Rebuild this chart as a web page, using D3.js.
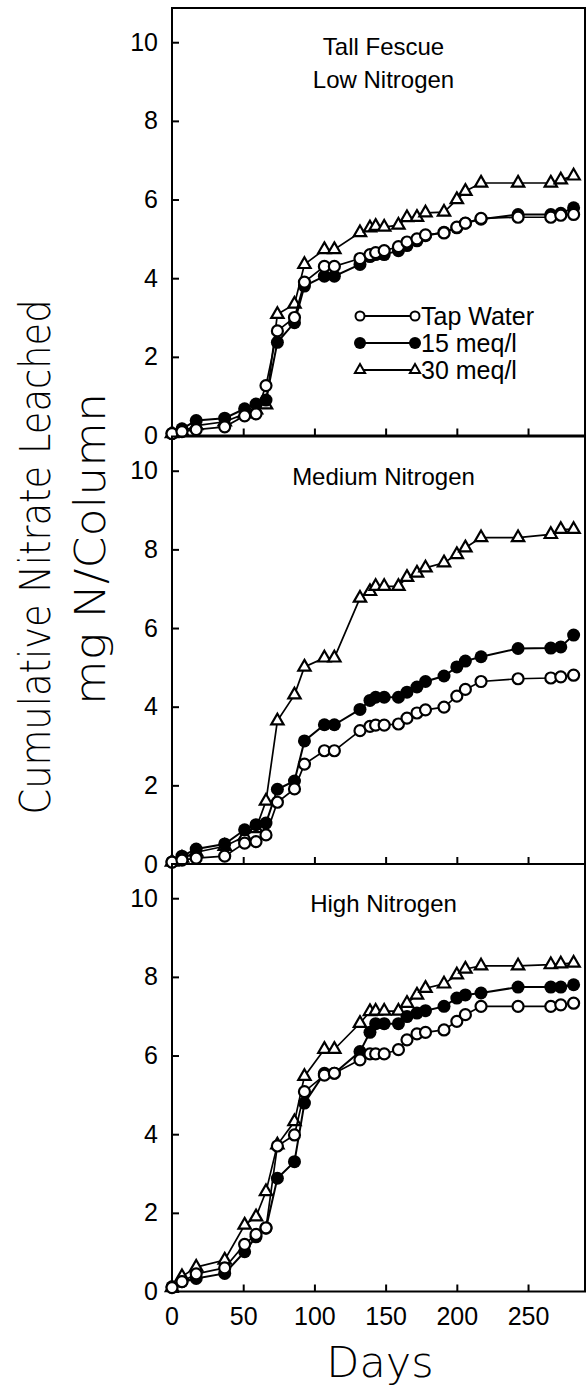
<!DOCTYPE html>
<html>
<head>
<meta charset="utf-8">
<script src="https://cdn.jsdelivr.net/npm/d3@7"></script>
<style>
  html, body { margin: 0; padding: 0; background: #fff; }
  svg { display: block; }
</style>
</head>
<body>
<svg id="chart" width="587" height="1395"></svg>
<script>
// ---- data ----
const days = [0, 7, 17, 37, 51, 59, 66, 74, 86, 93, 107, 114, 132, 139, 143, 149, 159, 165, 172, 178, 191, 200, 206, 217, 243, 266, 273, 282];

const seriesNames = ["Tap Water", "15 meq/l", "30 meq/l"];
const panelTitles = [["Tall Fescue", "Low Nitrogen"], ["Medium Nitrogen"], ["High Nitrogen"]];

const lowTap     = [0.05, 0.1, 0.15, 0.22, 0.5, 0.55, 1.27, 2.66, 3.0, 3.9, 4.3, 4.3, 4.5, 4.6, 4.65, 4.7, 4.8, 4.92, 5.0, 5.1, 5.15, 5.3, 5.4, 5.52, 5.55, 5.55, 5.6, 5.62];
const low15      = [0.05, 0.17, 0.38, 0.44, 0.68, 0.8, 0.9, 2.37, 2.87, 3.8, 4.05, 4.05, 4.35, 4.55, 4.6, 4.6, 4.7, 4.83, 4.95, 5.08, 5.17, 5.28, 5.4, 5.5, 5.62, 5.62, 5.65, 5.79];
const low30      = [0.05, 0.1, 0.25, 0.35, 0.55, 0.65, 0.78, 3.08, 3.34, 4.35, 4.73, 4.73, 5.16, 5.28, 5.32, 5.3, 5.35, 5.54, 5.55, 5.66, 5.68, 6.0, 6.21, 6.42, 6.42, 6.42, 6.5, 6.6];

const medTap     = [0.05, 0.1, 0.15, 0.2, 0.53, 0.57, 0.74, 1.57, 1.91, 2.54, 2.88, 2.88, 3.39, 3.5, 3.53, 3.53, 3.56, 3.71, 3.84, 3.92, 3.99, 4.27, 4.44, 4.64, 4.71, 4.73, 4.76, 4.8];
const med15      = [0.05, 0.2, 0.38, 0.51, 0.87, 1.0, 1.04, 1.9, 2.11, 3.13, 3.54, 3.54, 3.93, 4.16, 4.24, 4.24, 4.24, 4.37, 4.5, 4.64, 4.78, 5.01, 5.16, 5.27, 5.48, 5.49, 5.52, 5.82];
const med30      = [0.05, 0.15, 0.3, 0.45, 0.7, 0.9, 1.6, 3.64, 4.3, 5.01, 5.24, 5.24, 6.76, 6.93, 7.06, 7.06, 7.06, 7.29, 7.4, 7.53, 7.66, 7.87, 8.04, 8.3, 8.3, 8.38, 8.51, 8.51];

const highTap    = [0.1, 0.25, 0.45, 0.6, 1.2, 1.45, 1.62, 3.7, 3.98, 5.08, 5.5, 5.55, 5.89, 6.04, 6.04, 6.04, 6.15, 6.4, 6.55, 6.59, 6.65, 6.87, 7.04, 7.25, 7.25, 7.25, 7.29, 7.33];
const high15     = [0.12, 0.25, 0.33, 0.46, 1.01, 1.39, 1.61, 2.88, 3.3, 4.79, 5.55, 5.55, 6.1, 6.59, 6.81, 6.81, 6.81, 6.99, 7.08, 7.14, 7.25, 7.46, 7.54, 7.59, 7.74, 7.74, 7.74, 7.8];
const high30     = [0.1, 0.38, 0.62, 0.8, 1.69, 1.9, 2.54, 3.73, 4.32, 5.47, 6.16, 6.16, 6.82, 7.12, 7.13, 7.13, 7.13, 7.33, 7.54, 7.71, 7.82, 8.05, 8.2, 8.28, 8.28, 8.31, 8.33, 8.35];

const xTicks = [0, 50, 100, 150, 200, 250];
const yTicks = [0, 2, 4, 6, 8, 10];

const yTitle1 = "Cumulative Nitrate Leached";
const yTitle2 = "mg N/Column";
const xTitle = "Days";

// ---- layout ----
const svg = d3.select("#chart");
const left = 172, right = 585;
const panelTops = [8, 436.5, 864];
const panelH = 427.5;
const tickFont = "'Liberation Sans', Arial, sans-serif";

const x = d3.scaleLinear().domain([0, 290]).range([left, right]);

const panels = [
  { tap: lowTap, s15: low15, s30: low30 },
  { tap: medTap, s15: med15, s30: med30 },
  { tap: highTap, s15: high15, s30: high30 }
];

const triSym = d3.symbol().type(d3.symbolTriangle).size(66);

panels.forEach((p, i) => {
  const top = panelTops[i];
  const y = d3.scaleLinear().domain([0, 10.87]).range([top + panelH, top]);
  const g = svg.append("g");

  // frame
  g.append("rect")
    .attr("x", left).attr("y", top)
    .attr("width", right - left).attr("height", panelH)
    .attr("fill", "none").attr("stroke", "#000").attr("stroke-width", 2);

  // y axis
  const ya = g.append("g").attr("transform", `translate(${left},0)`)
    .call(d3.axisLeft(y).tickValues(yTicks).tickSize(-7).tickPadding(14).tickFormat(d3.format("d")));
  ya.select(".domain").remove();
  ya.selectAll(".tick line").attr("stroke-width", 2);
  ya.selectAll("text").attr("font-size", 25).attr("font-family", tickFont).attr("fill", "#000");

  // x axis
  const xa = g.append("g").attr("transform", `translate(0,${top + panelH})`)
    .call(d3.axisBottom(x).tickValues(xTicks.filter(d => d > 0)).tickSize(-7).tickPadding(16)
      .tickFormat(i === 2 ? d3.format("d") : () => ""));
  xa.select(".domain").remove();
  xa.selectAll(".tick line").attr("stroke-width", 2);
  xa.selectAll("text").attr("font-size", 25).attr("font-family", tickFont).attr("fill", "#000");
  if (i === 2) {
    xa.append("g").attr("class", "tick").attr("transform", `translate(${x(0)},0)`)
      .append("text").attr("y", 16).attr("dy", "0.71em").attr("text-anchor", "middle")
      .attr("font-size", 25).attr("font-family", tickFont).attr("fill", "#000").text(xTicks[0]);
  }

  // titles
  const cx = (left + right) / 2 + 5;
  panelTitles[i].forEach((t, k) => {
    g.append("text").attr("x", cx).attr("y", top + (i === 0 ? 47 : 48) + k * 33)
      .attr("text-anchor", "middle").attr("font-size", 24).attr("font-family", tickFont)
      .text(t);
  });

  const line = d3.line().x((d, j) => x(days[j])).y(d => y(d));

  // 30 meq/l triangles
  g.append("path").datum(p.s30).attr("d", line).attr("fill", "none").attr("stroke", "#000").attr("stroke-width", 1.7);
  g.selectAll(".t30").data(p.s30).enter().append("path")
    .attr("transform", (d, j) => `translate(${x(days[j])},${y(d)})`)
    .attr("d", triSym).attr("fill", "#fff").attr("stroke", "#000").attr("stroke-width", 2.2);

  // 15 meq/l filled circles
  g.append("path").datum(p.s15).attr("d", line).attr("fill", "none").attr("stroke", "#000").attr("stroke-width", 2);
  g.selectAll(".c15").data(p.s15).enter().append("circle")
    .attr("cx", (d, j) => x(days[j])).attr("cy", d => y(d)).attr("r", 6.5)
    .attr("fill", "#000");

  // tap water open circles
  g.append("path").datum(p.tap).attr("d", line).attr("fill", "none").attr("stroke", "#000").attr("stroke-width", 1.7);
  g.selectAll(".ct").data(p.tap).enter().append("circle")
    .attr("cx", (d, j) => x(days[j])).attr("cy", d => y(d)).attr("r", 5.5)
    .attr("fill", "#fff").attr("stroke", "#000").attr("stroke-width", 2.2);
});

// legend (top panel)
const legRows = [316, 343, 370];
const lx1 = 360, lx2 = 415, ltx = 421;
const leg = svg.append("g");
legRows.forEach((ly, k) => {
  leg.append("line").attr("x1", lx1).attr("x2", lx2).attr("y1", ly).attr("y2", ly)
    .attr("stroke", "#000").attr("stroke-width", 1.8);
  [lx1, lx2].forEach(mx => {
    if (k === 0) {
      leg.append("circle").attr("cx", mx).attr("cy", ly).attr("r", 4.5)
        .attr("fill", "#fff").attr("stroke", "#000").attr("stroke-width", 2);
    } else if (k === 1) {
      leg.append("circle").attr("cx", mx).attr("cy", ly).attr("r", 6).attr("fill", "#000");
    } else {
      leg.append("path").attr("transform", `translate(${mx},${ly})`)
        .attr("d", d3.symbol().type(d3.symbolTriangle).size(45))
        .attr("fill", "#fff").attr("stroke", "#000").attr("stroke-width", 2);
    }
  });
  leg.append("text").attr("x", ltx).attr("y", ly).attr("dy", "0.36em")
    .attr("font-size", 25).attr("font-family", tickFont).text(seriesNames[k]);
});

// axis titles
const titleFont = "'DejaVu Sans', sans-serif";
svg.append("text")
  .attr("transform", "translate(50,557) rotate(-90)")
  .attr("text-anchor", "middle").attr("font-size", 43).attr("font-weight", 200)
  .attr("font-family", titleFont)
  .attr("textLength", 515).attr("lengthAdjust", "spacingAndGlyphs")
  .text(yTitle1);
svg.append("text")
  .attr("transform", "translate(105,549) rotate(-90)")
  .attr("text-anchor", "middle").attr("font-size", 43).attr("font-weight", 200)
  .attr("font-family", titleFont)
  .attr("textLength", 312).attr("lengthAdjust", "spacingAndGlyphs")
  .text(yTitle2);
svg.append("text")
  .attr("x", 380).attr("y", 1377)
  .attr("text-anchor", "middle").attr("font-size", 43).attr("font-weight", 200)
  .attr("font-family", titleFont)
  .text(xTitle);
</script>
</body>
</html>
